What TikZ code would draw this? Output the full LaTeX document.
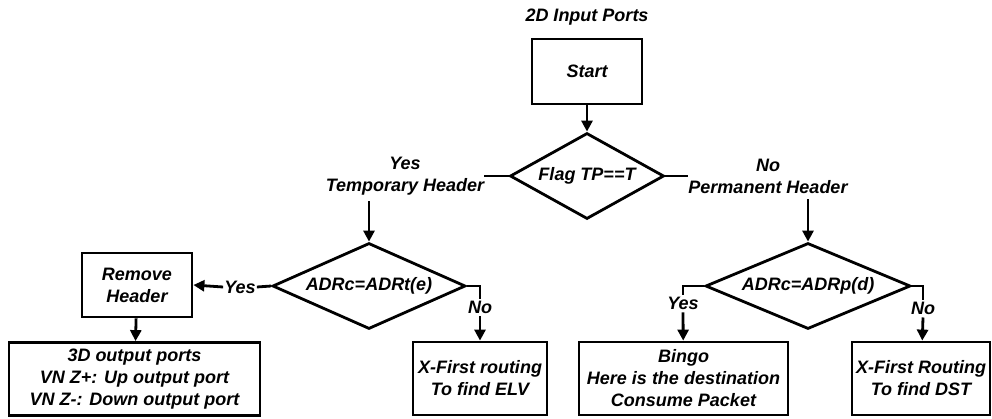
\documentclass[tikz,border=0pt]{standalone}
\usepackage{fontspec}
\setmainfont{Liberation Sans}
\usetikzlibrary{
	positioning		% Allows relative placement
	, arrows.meta		% Allows filled triangle tips
	, shapes.geometric	% Allows diamond shapes
	, calc
}

\begin{document}
\begin{tikzpicture}[
		x=1pt, y=-1pt,
		font=\fontsize{18}{22}\selectfont\bfseries\itshape,
		element/.style={
			rectangle,
			draw=black, line width=2.8pt,
			inner sep=0pt,
			align=center
		},
		decision/.style={
			diamond,
			draw=black, line width=2.8pt,
			inner sep=0pt,
			minimum height=86pt
		},
		label/.style={
			inner sep=0pt,
			align=center
		},
		link/.style={
			line width=2.8pt
		},
		arrow/.style={
			->,
			line width=2.8pt
		},
		>={Triangle[length=11pt,width=11pt]}]

	\useasboundingbox (0,0) rectangle (992,418);

	%%% Top of the chart
	\node [label] (inPorts) at (587,17) {2D Input Ports};
	\node [element, minimum width=110pt, minimum height=65pt] (start) at (587,71.5) {Start};
	\node [decision, minimum width=154pt, aspect=1.8] (flagTP) at (587,176) {Flag TP==T};

	%%% Branch labels of the first decision
	\node [label] (tmpHeader) at (405,176) {Yes\\Temporary Header};
	\node [label] (permHeader) at (768,176) {No\\Permanent Header};

	%%% Second row of decisions
	\node [decision, minimum width=193pt, aspect=2.24] (adrT) at (369,286) {ADRc=ADRt(e)};
	\node [decision, minimum width=205pt, aspect=2.38] (adrP) at (808,286) {ADRc=ADRp(d)};

	\node [element, minimum width=110pt, minimum height=64pt] (removeHdr) at (137,285) {Remove\\Header};

	%%% Labels on the second row
	\node [label] (yesT) at (240,287) {Yes};
	\node [label] (noT) at (480,307) {No};
	\node [label] (yesP) at (683,303) {Yes};
	\node [label] (noP) at (923,308) {No};

	%%% Bottom boxes
	\node [element, minimum width=251pt, minimum height=73pt] (out3D) at (134.5,379) {3D output ports\\VN Z+: Up output port\\VN Z-: Down output port};
	\node [element, minimum width=134pt, minimum height=73pt] (findELV) at (480,378.5) {X-First routing\\To find ELV};
	\node [element, minimum width=209pt, minimum height=73pt] (bingo) at (683.5,378.5) {Bingo\\Here is the destination\\Consume Packet};
	\node [element, minimum width=138pt, minimum height=73pt] (findDST) at (921,378.5) {X-First Routing\\To find DST};

	%%% Connectors
	\draw [arrow] (start) -- (flagTP);

	\draw [link] (flagTP.west) -- (tmpHeader.east |- flagTP.west);
	\draw [arrow] ($(adrT.north |- tmpHeader.south)+(0,6)$) -- (adrT.north);
	\draw [link] (flagTP.east) -- (permHeader.west |- flagTP.east);
	\draw [arrow] ($(adrP.north |- permHeader.south)+(0,6)$) -- (adrP.north);

	\draw [link] (adrT.west) -- ($(yesT.east)+(1,0)$);
	\draw [arrow] ($(yesT.west)+(-1,0)$) -- (removeHdr.east);
	\draw [arrow] (removeHdr) -- (out3D);

	\draw [link] (adrT.east) -| ($(noT.north)+(0,-2)$);
	\draw [arrow] ($(noT.south)+(0,3)$) -- (findELV);

	\draw [link] (adrP.west) -| ($(yesP.north)+(0,-2)$);
	\draw [arrow] ($(yesP.south)+(0,3)$) -- (bingo);

	\draw [link] (adrP.east) -| ($(noP.north)+(0,-2)$);
	\draw [arrow] ($(noP.south)+(0,3)$) -- (findDST);

\end{tikzpicture}
\end{document}
